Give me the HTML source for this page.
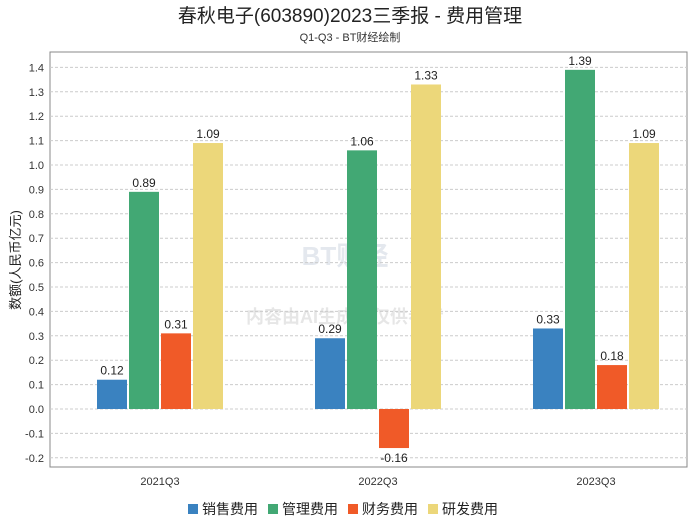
<!DOCTYPE html>
<html><head><meta charset="utf-8"><style>
body{margin:0;background:#fff;width:700px;height:524px;overflow:hidden;font-family:"Liberation Sans","Noto Sans CJK SC",sans-serif}
</style></head><body>
<svg id="c" width="700" height="524" xmlns="http://www.w3.org/2000/svg">
<text x="350" y="22" text-anchor="middle" font-size="19" fill="#222">春秋电子(603890)2023三季报 - 费用管理</text>
<text x="350" y="41" text-anchor="middle" font-size="11" fill="#333">Q1-Q3 - BT财经绘制</text>
<rect x="50" y="52" width="637" height="415" fill="none" stroke="#888"/>
<text x="20" y="260" text-anchor="middle" font-size="13" fill="#222" transform="rotate(-90 20 260)">数额(人民币亿元)</text>
<text x="345" y="265" text-anchor="middle" font-size="26" font-weight="bold" fill="#e4e8ee">BT财经</text>
<text x="345" y="323" text-anchor="middle" font-size="18" font-weight="bold" fill="#e6e6e6">内容由AI生成，仅供参考</text>
<g id="g"></g>
</svg>
<script>
const categories=["2021Q3","2022Q3","2023Q3"];
const seriesNames=["销售费用","管理费用","财务费用","研发费用"];
const colors=["#3a82c0","#42a874","#f05a28","#ecd77a"];
const sales=[0.12,0.29,0.33];
const admin=[0.89,1.06,1.39];
const finance=[0.31,-0.16,0.18];
const rnd=[1.09,1.33,1.09];
const yTicks=[-0.2,-0.1,0.0,0.1,0.2,0.3,0.4,0.5,0.6,0.7,0.8,0.9,1.0,1.1,1.2,1.3,1.4];
const series=[sales,admin,finance,rnd];
const NS="http://www.w3.org/2000/svg";
const g=document.getElementById('g');
const y=v=>409-v*244;
const xc=i=>160+i*218;
function mk(t,a){const e=document.createElementNS(NS,t);for(const k in a)e.setAttribute(k,a[k]);g.appendChild(e);return e;}
yTicks.forEach(v=>{
 const l=mk('line',{x1:50,x2:687,y1:y(v),y2:y(v),stroke:'#ccc','stroke-dasharray':'3,2'});
 
 
 const t=mk('text',{x:44,y:y(v)+4,'text-anchor':'end','font-size':11,fill:'#333'});
 t.textContent=v.toFixed(1);
 
 
});
categories.forEach((c,i)=>{
 const t=mk('text',{x:xc(i),y:485,'text-anchor':'middle','font-size':11,fill:'#333'});
 t.textContent=c;
 
 
 series.forEach((s,j)=>{
  const v=s[i];const x=xc(i)-63+j*32;
  const r=mk('rect',{x:x,y:Math.min(y(v),y(0)),width:30,height:Math.abs(y(v)-y(0)),fill:colors[j]});
  
  
  const lt=mk('text',{x:x+15,y:v>=0?y(v)-5:y(v)+14,'text-anchor':'middle','font-size':12,fill:'#222'});
  lt.textContent=v.toFixed(2);
  
  
 });
});
seriesNames.forEach((n,j)=>{
 const x=188+j*80;
 const r=mk('rect',{x:x,y:504,width:10,height:10,fill:colors[j]});
 
 
 const t=mk('text',{x:x+14,y:514,'font-size':14,fill:'#222'});
 t.textContent=n;
 
 
});
</script>
</body></html>
